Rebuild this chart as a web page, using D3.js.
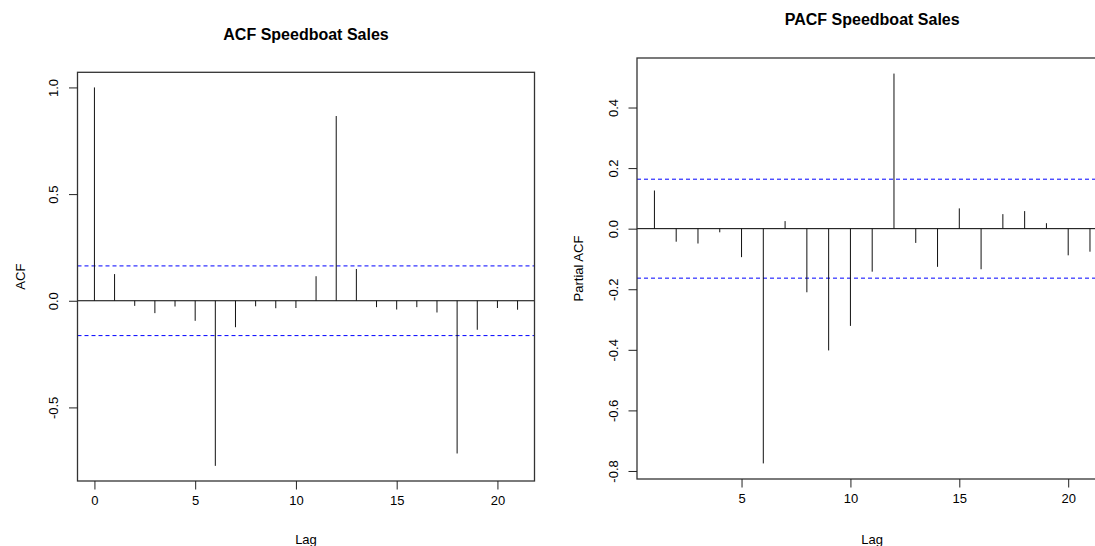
<!DOCTYPE html>
<html>
<head>
<meta charset="utf-8">
<script src="https://cdn.jsdelivr.net/npm/d3@7"></script>
<style>
  html, body { margin: 0; padding: 0; background: #fff; overflow: hidden; }
  text { font-family: "Liberation Sans", Arial, sans-serif; fill: #000; }
</style>
</head>
<body>
<svg id="chart" width="1095" height="546"></svg>
<script>
// ---- Data ----
const acfLags = d3.range(0, 22);
const acfValues = [1.000, 0.125, -0.024, -0.058, -0.027, -0.094, -0.774, -0.124,
  -0.026, -0.035, -0.034, 0.115, 0.866, 0.149, -0.030, -0.041, -0.030, -0.055,
  -0.716, -0.136, -0.034, -0.042];
const pacfLags = d3.range(1, 22);
const pacfValues = [0.126, -0.043, -0.049, -0.012, -0.094, -0.775, 0.025, -0.210,
  -0.402, -0.321, -0.142, 0.512, -0.047, -0.126, 0.067, -0.134, 0.048, 0.058,
  0.018, -0.088, -0.076];
const confLimit = 1.96 / Math.sqrt(144);
const acfXTicks = [0, 5, 10, 15, 20];
const acfYTicks = [-0.5, 0.0, 0.5, 1.0];
const pacfXTicks = [5, 10, 15, 20];
const pacfYTicks = [-0.8, -0.6, -0.4, -0.2, 0.0, 0.2, 0.4];
const titles = ["ACF Speedboat Sales", "PACF Speedboat Sales"];
const yLabels = ["ACF", "Partial ACF"];

const svg = d3.select("#chart");
svg.append("rect").attr("width", 1095).attr("height", 546).attr("fill", "#fff");

const fmt1 = v => v.toFixed(1);

function expand(ext) {
  const d = ext[1] - ext[0];
  return [ext[0] - 0.04 * d, ext[1] + 0.04 * d];
}

function panel(opt) {
  const {lags, values, box, title, titleY, ylab, ylabX, xTicks, yTicks} = opt;
  const g = svg.append("g");
  const xDom = expand(d3.extent(lags));
  const yDom = expand([Math.min(d3.min(values), -confLimit), Math.max(d3.max(values), confLimit)]);
  const x = d3.scaleLinear().domain(xDom).range([box.l, box.r]);
  const y = d3.scaleLinear().domain(yDom).range([box.b, box.t]);

  // zero line
  g.append("line")
    .attr("x1", box.l).attr("x2", box.r)
    .attr("y1", y(0)).attr("y2", y(0))
    .attr("stroke", "#000").attr("stroke-width", 1);

  // confidence lines
  [confLimit, -confLimit].forEach(c => {
    g.append("line")
      .attr("x1", box.l).attr("x2", box.r)
      .attr("y1", y(c)).attr("y2", y(c))
      .attr("stroke", "#0000ff").attr("stroke-width", 1)
      .attr("stroke-dasharray", "4,3");
  });

  // spikes
  g.selectAll("line.spike").data(lags).enter().append("line")
    .attr("class", "spike")
    .attr("x1", d => x(d)).attr("x2", d => x(d))
    .attr("y1", y(0)).attr("y2", (d, i) => y(values[i]))
    .attr("stroke", "#111").attr("stroke-width", 1);

  // box
  g.append("rect")
    .attr("x", box.l).attr("y", box.t)
    .attr("width", box.r - box.l).attr("height", box.b - box.t)
    .attr("fill", "none").attr("stroke", "#333").attr("stroke-width", 1.3);

  // x axis
  const xa = g.append("g").attr("transform", `translate(0,${box.b})`)
    .call(d3.axisBottom(x).tickValues(xTicks).tickSize(8.5).tickPadding(6).tickFormat(d => String(d)));
  xa.select(".domain").remove();
  xa.selectAll("line").attr("stroke", "#222");
  xa.selectAll("text").attr("font-size", 13).attr("font-family", "Liberation Sans, Arial, sans-serif").attr("fill", "#000");

  // y axis
  const ya = g.append("g").attr("transform", `translate(${box.l},0)`)
    .call(d3.axisLeft(y).tickValues(yTicks).tickSize(8.5).tickFormat(fmt1));
  ya.select(".domain").remove();
  ya.selectAll("line").attr("stroke", "#222");
  ya.selectAll("text").remove();
  ya.selectAll(".tick").append("text")
    .attr("transform", "translate(-24,0) rotate(-90)")
    .attr("text-anchor", "middle").attr("dy", "0.35em")
    .attr("font-size", 13).attr("fill", "#000")
    .text(d => fmt1(d));

  // title
  g.append("text")
    .attr("x", (box.l + box.r) / 2).attr("y", titleY)
    .attr("text-anchor", "middle")
    .attr("font-size", 16).attr("font-weight", "bold")
    .text(title);

  // x label
  g.append("text")
    .attr("x", (box.l + box.r) / 2).attr("y", 544)
    .attr("text-anchor", "middle").attr("font-size", 13)
    .text("Lag");

  // y label
  g.append("text")
    .attr("transform", `translate(${ylabX},${(box.t + box.b) / 2}) rotate(-90)`)
    .attr("text-anchor", "middle").attr("dy", "0.35em").attr("font-size", 13)
    .text(ylab);
}

panel({
  lags: acfLags, values: acfValues,
  box: {l: 77.5, r: 534.5, t: 72.3, b: 481},
  title: titles[0], titleY: 40, ylab: yLabels[0], ylabX: 20,
  xTicks: acfXTicks, yTicks: acfYTicks
});

panel({
  lags: pacfLags, values: pacfValues,
  box: {l: 637, r: 1107.4, t: 58, b: 479},
  title: titles[1], titleY: 25, ylab: yLabels[1], ylabX: 578,
  xTicks: pacfXTicks, yTicks: pacfYTicks
});
</script>
</body>
</html>
